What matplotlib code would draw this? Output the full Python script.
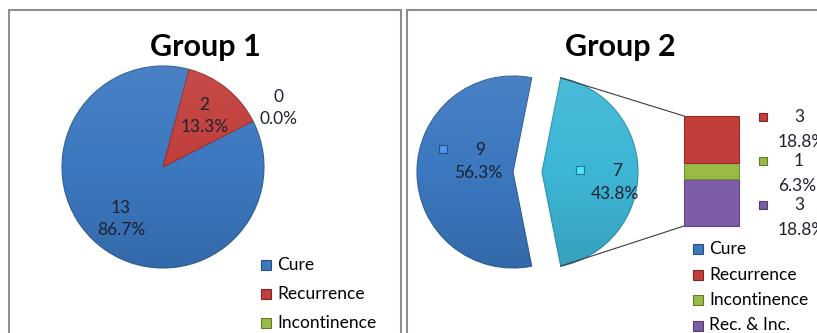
import math
import numpy as np
import matplotlib
matplotlib.use("Agg")
import matplotlib.pyplot as plt
from matplotlib.patches import Rectangle
from matplotlib.colors import to_rgb

plt.rcParams['font.family'] = ['Lato', 'DejaVu Sans']

categories = ['Cure', 'Recurrence', 'Incontinence', 'Rec. & Inc.']
colors = ['#3c78c0', '#c13e3b', '#98bb45', '#7d5ca8']
other_color = '#3db6d6'

group1_values = [13, 2, 0]          # Cure, Recurrence, Incontinence
group2_pie = [9, 7]                 # Cure, everything else
group2_bar = [3, 1, 3]              # Recurrence, Incontinence, Rec. & Inc.

W, H = 817, 333


def pct(v, total):
    p = 100.0 * v / total
    return '%.1f%%' % (math.floor(p * 10 + 0.5) / 10)


def shade(color, f):
    r, g, b = to_rgb(color)
    return tuple(min(1.0, c * f) for c in (r, g, b))


def key(ax, x, y, color, size=8, light=1.0):
    ax.add_patch(Rectangle((x - size / 2, y - size / 2), size, size,
                           facecolor=shade(color, light), edgecolor=shade(color, 0.65),
                           lw=0.8, zorder=5))


# vertical light-to-dark overlay, clipped to each wedge for a slight 3D look
grad = np.zeros((64, 1, 4))
t = np.linspace(0, 1, 64)
grad[:, 0, :3] = np.where(t[:, None] < 0.5, 1.0, 0.0)
grad[:, 0, 3] = np.where(t < 0.5, 0.07 * (1 - 2 * t), 0.12 * (2 * t - 1))


def gloss(ax, wedge):
    cx, cy = wedge.center
    r = wedge.r
    im = ax.imshow(grad, extent=(cx - r, cx + r, cy - r, cy + r), aspect='auto',
                   interpolation='bilinear', zorder=1.5)
    im.set_clip_path(wedge)
    wedge.set_edgecolor(shade(wedge.get_facecolor()[:3], 0.8))
    wedge.set_linewidth(0.8)


fig = plt.figure(figsize=(W / 100, H / 100), dpi=100)
ax = fig.add_axes([0, 0, 1, 1])

# panel frames
for x0, x1 in [(9.5, 401.5), (407.5, 840)]:
    ax.add_patch(Rectangle((x0, -10), x1 - x0, H - 9.5 + 10, facecolor='white',
                           edgecolor='#8e8e8e', lw=1.5, zorder=0))

# ---- Group 1: plain pie ----
tot1 = sum(group1_values)
c1 = (163, H - 167)
r1 = 101
w1, _ = ax.pie(group1_values, colors=colors[:3], startangle=27, counterclock=False,
               center=c1, radius=r1, wedgeprops=dict(linewidth=0, zorder=1))
for w, v in zip(w1, group1_values):
    if v:
        gloss(ax, w)
lab_r = [0.66, 0.65, 1.28]
for w, v, f in zip(w1, group1_values, lab_r):
    a = math.radians((w.theta1 + w.theta2) / 2)
    ax.text(c1[0] + f * r1 * math.cos(a), c1[1] + f * r1 * math.sin(a),
            '%d\n%s' % (v, pct(v, tot1)), ha='center', va='center',
            fontsize=12.5, linespacing=1.45, color='#1c2230', zorder=6)

ax.text(205, H - 47, 'Group 1', ha='center', va='center', fontsize=22,
        fontweight='bold', color='black')

for i, name in enumerate(categories[:3]):
    y = H - 265 - i * 29
    key(ax, 266, y, colors[i], 10)
    ax.text(277, y, name, ha='left', va='center', fontsize=12.5, color='black')

# ---- Group 2: bar of pie ----
tot2 = sum(group2_pie)
c2 = (513, H - 172)
r2 = 96
start2 = 180 - 360 * group2_pie[0] / tot2 / 2
w2, _ = ax.pie(group2_pie, colors=[colors[0], other_color], startangle=start2,
               explode=[0, 29], center=c2, radius=r2,
               wedgeprops=dict(linewidth=0, zorder=1))
for w in w2:
    gloss(ax, w)

lab_off = [(-35, 10), (73, -11)]
for w, v, (dx, dy) in zip(w2, group2_pie, lab_off):
    cx, cy = w.center[0] + dx, w.center[1] + dy
    ax.text(cx + 2, cy + 12, '%d' % v, ha='center', va='center', fontsize=12.5,
            color='#1c2230', zorder=6)
    ax.text(cx, cy - 11, pct(v, tot2), ha='center', va='center', fontsize=12.5,
            color='#1c2230', zorder=6)
    key(ax, cx - 35, cy + 13, w.get_facecolor()[:3], light=1.25)

# stacked bar for the split-out slice
bar_left, bar_w = 684, 55
bar_top = H - 116
scale = 110 / sum(group2_bar)
bottom = bar_top - sum(group2_bar) * scale
b = bottom
for v, col in zip(group2_bar[::-1], colors[1:][::-1]):
    ax.bar(bar_left + bar_w / 2, v * scale, width=bar_w, bottom=b, color=col,
           edgecolor=shade(col, 0.75), linewidth=0.8, zorder=3)
    b += v * scale

# connector lines
ow = w2[1]
ox, oy = ow.center
for ang, yb in [(ow.theta2, bar_top), (ow.theta1, bottom)]:
    a = math.radians(ang)
    ax.plot([ox + ow.r * math.cos(a), bar_left], [oy + ow.r * math.sin(a), yb],
            color='#3a3a3a', lw=0.8, zorder=2)

for i, (v, col) in enumerate(zip(group2_bar, colors[1:])):
    y = bar_top - 1 - i * 44
    key(ax, 763, y, col)
    ax.text(799, y, '%d' % v, ha='center', va='center', fontsize=12.5, color='#1c2230')
    ax.text(778, y - 25, pct(v, tot2), ha='left', va='center', fontsize=12.5,
            color='#1c2230')

ax.text(620, H - 47, 'Group 2', ha='center', va='center', fontsize=22,
        fontweight='bold', color='black')

for i, name in enumerate(categories):
    y = H - 249 - i * 25.5
    key(ax, 698, y, colors[i], 10)
    ax.text(709, y, name, ha='left', va='center', fontsize=12.5, color='black')

ax.set_xlim(0, W)
ax.set_ylim(0, H)
ax.set_aspect('auto')
ax.axis('off')

fig.savefig('out.png', dpi=100, facecolor='white')
